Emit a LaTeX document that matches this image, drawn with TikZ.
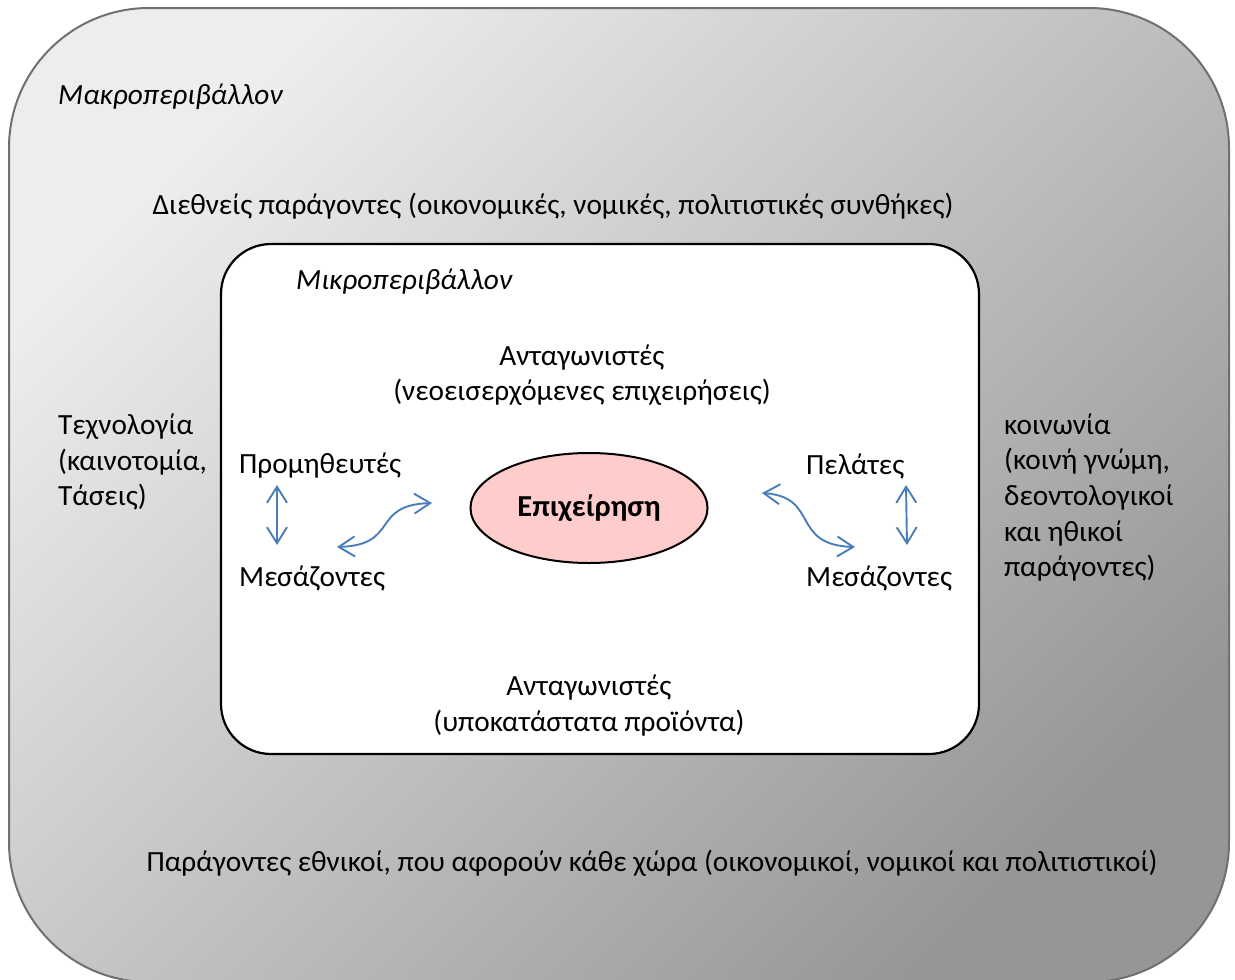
\documentclass[tikz,border=0pt]{standalone}
\usepackage{fontspec}
\setmainfont{Carlito}
\usetikzlibrary{shapes.geometric,arrows.meta}
\definecolor{arrowblue}{HTML}{4A7EBB}
\definecolor{pinkfill}{HTML}{FFCCCC}
\definecolor{outerline}{HTML}{707070}
\begin{document}
\begin{tikzpicture}[x=1pt,y=1pt,
  txt/.style={inner sep=0pt,font=\fontsize{29.3}{35.7}\selectfont},
  ltxt/.style={txt,anchor=west,align=left},
  ctxt/.style={txt,anchor=center,align=center},
  dblarrow/.style={draw=arrowblue,line width=1.9pt,
    {Straight Barb[length=16pt,width=20pt,line width=1.9pt]}-{Straight Barb[length=16pt,width=20pt,line width=1.9pt]}}
]
\useasboundingbox (0,0) rectangle (1235,-980);
% outer macro environment
\path[draw=outerline,line width=2pt,rounded corners=140pt,
  top color=black!7,bottom color=black!41,shading angle=45]
  (9,-8) rectangle (1229,-982);
% inner micro environment
\path[draw=black,line width=2.2pt,fill=white,rounded corners=50pt]
  (221,-244) rectangle (979,-754);
% texts
\node[ltxt,font=\fontsize{29.3}{35.7}\selectfont\itshape] (macro) at (58,-97) {Μακροπεριβάλλον};
\node[ctxt] (intl) at (553,-206) {Διεθνείς παράγοντες (οικονομικές, νομικές, πολιτιστικές συνθήκες)};
\node[ltxt,font=\fontsize{29.3}{35.7}\selectfont\itshape] (micro) at (296,-282) {Μικροπεριβάλλον};
\node[ctxt] (comp1) at (582,-375) {Ανταγωνιστές\\(νεοεισερχόμενες επιχειρήσεις)};
\node[ltxt] (tech) at (58,-462) {Τεχνολογία\\(καινοτομία,\\Τάσεις)};
\node[ltxt] (soc) at (1004,-497.5) {κοινωνία\\(κοινή γνώμη,\\δεοντολογικοί\\και ηθικοί\\παράγοντες)};
\node[ltxt] (supp) at (239,-466) {Προμηθευτές};
\node[ltxt] (mid1) at (239,-578) {Μεσάζοντες};
\node[ltxt] (cust) at (806,-466) {Πελάτες};
\node[ltxt] (mid2) at (806,-578) {Μεσάζοντες};
\node[ctxt] (comp2) at (589,-705.5) {Ανταγωνιστές\\(υποκατάστατα προϊόντα)};
\node[ctxt] (natl) at (652,-863) {Παράγοντες εθνικοί, που αφορούν κάθε χώρα (οικονομικοί, νομικοί και πολιτιστικοί)};
% firm
\node[ellipse,draw=black,line width=2pt,fill=pinkfill,minimum width=237pt,minimum height=110pt,
  font=\fontsize{30.5}{34}\selectfont\bfseries,inner sep=0pt] (firm) at (589,-508) {Επιχείρηση};
% arrow end points
\coordinate (a1t) at (277,-485);
\coordinate (a1b) at (277,-545);
\coordinate (a2s) at (337,-547);
\coordinate (a2e) at (432,-503);
\coordinate (a3s) at (762,-493);
\coordinate (a3e) at (855,-547);
\coordinate (a4t) at (906,-485);
\coordinate (a4b) at (907,-545);
\draw[dblarrow] (a1t) -- (a1b);
\draw[dblarrow] (a2s) .. controls (400,-545) and (370,-505) .. (a2e);
\draw[dblarrow] (a3s) .. controls (820,-497) and (790,-545) .. (a3e);
\draw[dblarrow] (a4t) -- (a4b);
\end{tikzpicture}
\end{document}
